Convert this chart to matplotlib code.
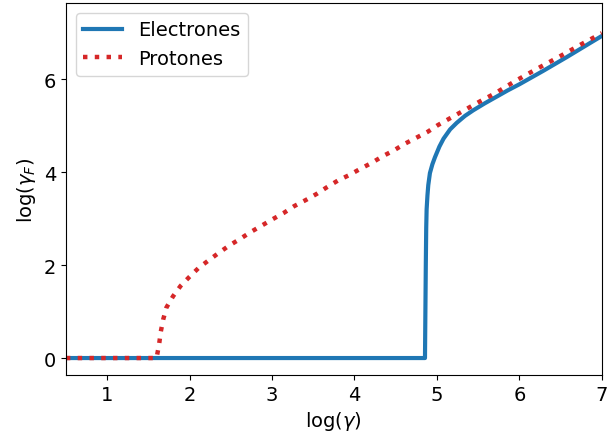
import matplotlib
matplotlib.use("Agg")
import matplotlib.pyplot as plt

# Electrons: log(gamma) vs log(gamma_F)
e_x = [0.5, 1.0, 2.0, 3.0, 4.0, 4.5, 4.855, 4.86, 4.865, 4.87, 4.875, 4.885, 4.895,
       4.915, 4.945, 4.976, 5.03, 5.08, 5.16, 5.24, 5.34, 5.44, 5.58, 5.72,
       5.86, 6.0, 6.29, 6.57, 6.85, 7.0]
e_y = [0.0, 0.0, 0.0, 0.0, 0.0, 0.0, 0.0, 1.0, 2.0, 2.8, 3.2, 3.5, 3.72,
       3.98, 4.17, 4.32, 4.55, 4.72, 4.92, 5.06, 5.21, 5.33, 5.48, 5.62,
       5.76, 5.89, 6.18, 6.47, 6.77, 6.93]

# Protons
p_x = [0.5, 1.0, 1.5, 1.60, 1.615, 1.63, 1.65, 1.68, 1.72, 1.80, 1.89, 2.00, 2.11,
       2.23, 2.36, 2.48, 2.61, 2.74, 2.875, 3.01, 3.14, 3.27, 3.41, 3.54, 3.67,
       3.80, 3.94, 4.07, 4.21, 4.34, 4.48, 4.61, 4.75, 4.89, 5.01, 5.15, 5.28,
       5.42, 5.55, 5.69, 5.82, 5.95, 6.2, 6.5, 6.75, 7.0]
p_y = [0.0, 0.0, 0.0, 0.0, 0.15, 0.29, 0.56, 0.83, 1.09, 1.33, 1.55, 1.75, 1.94,
       2.10, 2.27, 2.42, 2.56, 2.71, 2.85, 2.99, 3.12, 3.27, 3.40, 3.53, 3.68,
       3.82, 3.94, 4.07, 4.20, 4.34, 4.47, 4.61, 4.74, 4.87, 5.01, 5.15, 5.28,
       5.42, 5.55, 5.68, 5.82, 5.96, 6.21, 6.50, 6.75, 6.99]

x_ticks = [1, 2, 3, 4, 5, 6, 7]
y_ticks = [0, 2, 4, 6]

fig = plt.figure(figsize=(6.16, 4.39), dpi=100)
ax = fig.add_axes([0.107, 0.1435, 0.870, 0.8475])
ax.plot(e_x, e_y, color="#1f77b4", lw=3.0, label="Electrones")
ax.plot(p_x, p_y, color="#d62728", lw=3.2, linestyle=":", label="Protones")
ax.set_xlim(0.5, 7)
ax.set_ylim(-0.365, 7.64)
ax.set_xticks(x_ticks)
ax.set_yticks(y_ticks)
ax.tick_params(labelsize=14)
ax.set_xlabel(r"log($\gamma$)", fontsize=14)
ax.set_ylabel(r"log($\gamma_F$)", fontsize=14)
ax.legend(loc="upper left", fontsize=14)
fig.savefig("out.png", dpi=100)
